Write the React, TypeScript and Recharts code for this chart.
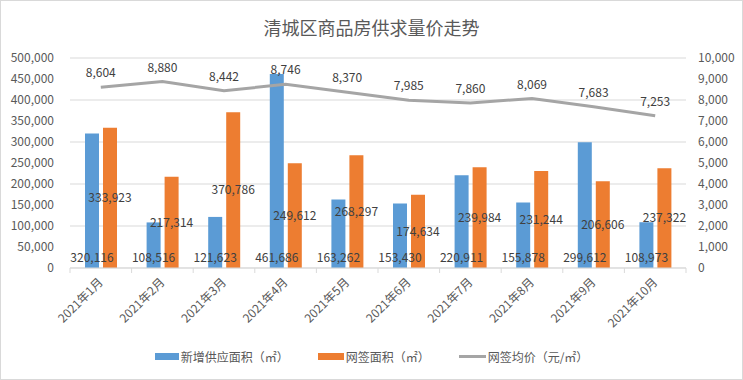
import React from 'react';
import {
  ComposedChart,
  Bar,
  Line,
  XAxis,
  YAxis,
  CartesianGrid,
  Legend,
  LabelList,
} from 'recharts';

const categories = [
  '2021年1月',
  '2021年2月',
  '2021年3月',
  '2021年4月',
  '2021年5月',
  '2021年6月',
  '2021年7月',
  '2021年8月',
  '2021年9月',
  '2021年10月',
];
const supplyArea = [320116, 108516, 121623, 461686, 163262, 153430, 220911, 155878, 299612, 108973];
const signedArea = [333923, 217314, 370786, 249612, 268297, 174634, 239984, 231244, 206606, 237322];
const avgPrice = [8604, 8880, 8442, 8746, 8370, 7985, 7860, 8069, 7683, 7253];

const leftTicks = [0, 50000, 100000, 150000, 200000, 250000, 300000, 350000, 400000, 450000, 500000];
const rightTicks = [0, 1000, 2000, 3000, 4000, 5000, 6000, 7000, 8000, 9000, 10000];

const seriesNames = ['新增供应面积（㎡）', '网签面积（㎡）', '网签均价（元/㎡）'];
const title = '清城区商品房供求量价走势';

const data = categories.map((c, i) => ({
  month: c,
  supply: supplyArea[i],
  signed: signedArea[i],
  price: avgPrice[i],
}));

const W = 743;
const H = 380;
const LEFT_W = 70;
const RIGHT_W = 57;
const PLOT_W = W - LEFT_W - RIGHT_W;
const BAND = PLOT_W / categories.length;

const BLUE = '#5B9BD5';
const ORANGE = '#ED7D31';
const GRAY = '#A5A5A5';
const AXIS_TEXT = '#595959';
const LABEL_TEXT = '#404040';
const GRID = '#D9D9D9';

const fmt = (v: any) => Number(v).toLocaleString('en-US');

const XTick = (props: any) => {
  const { x, y, payload, index } = props;
  const ax = x + 3;
  const ay = y + 15;
  return (
    <g>
      <line x1={x - BAND / 2} x2={x - BAND / 2} y1={y} y2={y + 5} stroke={GRID} />
      {index === categories.length - 1 && (
        <line x1={x + BAND / 2} x2={x + BAND / 2} y1={y} y2={y + 5} stroke={GRID} />
      )}
      <text
        x={ax}
        y={ay}
        textAnchor="end"
        fontSize={12}
        fill={AXIS_TEXT}
        transform={`rotate(-45, ${ax}, ${ay})`}
      >
        {payload.value}
      </text>
    </g>
  );
};

const LegendContent = () => {
  const item = (swatch: React.ReactNode, label: string, mr: number) => (
    <div style={{ display: 'flex', alignItems: 'center', marginRight: mr }}>
      {swatch}
      <span style={{ marginLeft: 2, fontSize: 12, color: AXIS_TEXT, whiteSpace: 'nowrap' }}>{label}</span>
    </div>
  );
  return (
    <div
      style={{
        display: 'flex',
        justifyContent: 'center',
        alignItems: 'center',
        height: 20,
        width: W,
      }}
    >
      {item(<div style={{ width: 24, height: 7, background: BLUE }} />, seriesNames[0], 29)}
      {item(<div style={{ width: 26, height: 7, background: ORANGE }} />, seriesNames[1], 29)}
      {item(<div style={{ width: 27, height: 3, background: GRAY }} />, seriesNames[2], 0)}
    </div>
  );
};

export default function App() {
  return (
    <div
      style={{
        position: 'absolute',
        left: 0,
        top: 0,
        width: W,
        height: H,
        background: '#fff',
        fontFamily: '"Noto Sans CJK SC", "Noto Sans", sans-serif',
      }}
    >
      <div
        style={{
          position: 'absolute',
          top: 15,
          left: 0,
          width: W,
          textAlign: 'center',
          fontSize: 18,
          lineHeight: '24px',
          color: AXIS_TEXT,
        }}
      >
        {title}
      </div>
      <ComposedChart
        width={W}
        height={H}
        data={data}
        margin={{ top: 58, right: 0, bottom: 22, left: 0 }}
        barSize={14}
        barGap={4}
      >
        <CartesianGrid vertical={false} stroke={GRID} />
        <XAxis
          dataKey="month"
          interval={0}
          height={70}
          tickSize={0}
          tickMargin={0}
          tickLine={false}
          axisLine={{ stroke: GRID }}
          tick={<XTick />}
        />
        <YAxis
          yAxisId={0}
          width={LEFT_W}
          domain={[0, 500000]}
          ticks={leftTicks}
          tickFormatter={fmt}
          axisLine={false}
          tickLine={false}
          tickSize={6}
          tickMargin={10}
          tick={{ fill: AXIS_TEXT, fontSize: 12 }}
        />
        <YAxis
          yAxisId="right"
          orientation="right"
          width={RIGHT_W}
          domain={[0, 10000]}
          ticks={rightTicks}
          tickFormatter={fmt}
          axisLine={false}
          tickLine={false}
          tickSize={6}
          tickMargin={6}
          tick={{ fill: AXIS_TEXT, fontSize: 12 }}
        />
        <Legend
          verticalAlign="bottom"
          content={<LegendContent />}
          wrapperStyle={{ bottom: 14, left: 0, width: W, height: 20 }}
        />
        <Bar dataKey="supply" name={seriesNames[0]} fill={BLUE} isAnimationActive={false}>
          <LabelList
            dataKey="supply"
            position="insideBottom"
            offset={6}
            formatter={fmt}
            fill={LABEL_TEXT}
            fontSize={12}
          />
        </Bar>
        <Bar dataKey="signed" name={seriesNames[1]} fill={ORANGE} isAnimationActive={false}>
          <LabelList
            dataKey="signed"
            position="center"
            formatter={fmt}
            fill={LABEL_TEXT}
            fontSize={12}
          />
        </Bar>
        <Line
          yAxisId="right"
          dataKey="price"
          name={seriesNames[2]}
          stroke={GRAY}
          strokeWidth={3}
          dot={false}
          isAnimationActive={false}
        >
          <LabelList
            dataKey="price"
            position="top"
            offset={10}
            formatter={fmt}
            fill={LABEL_TEXT}
            fontSize={12}
          />
        </Line>
      </ComposedChart>
      <div
        style={{
          position: 'absolute',
          left: 0,
          top: 0,
          width: W,
          height: H,
          boxSizing: 'border-box',
          border: '1px solid #D9D9D9',
          pointerEvents: 'none',
        }}
      />
    </div>
  );
}
